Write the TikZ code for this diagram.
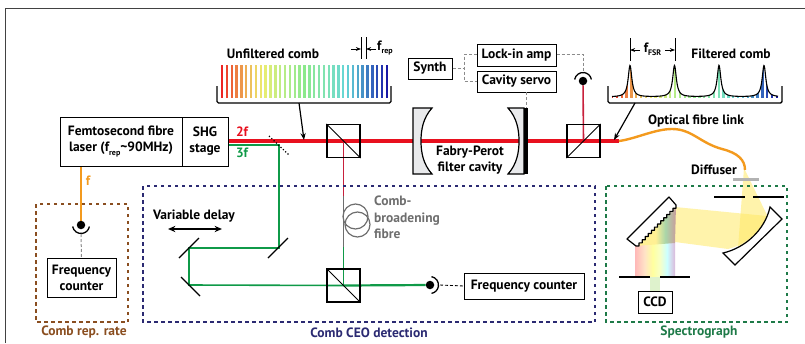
\documentclass[tikz,border=0pt]{standalone}
\usepackage{fontspec}
\setmainfont{PT Sans}
\usepackage{tikz}
\usetikzlibrary{arrows.meta,positioning,calc,backgrounds}
\definecolor{figRed}{HTML}{E8101E}
\definecolor{figCrimson}{HTML}{C8203C}
\definecolor{figGreen}{HTML}{0F9A48}
\definecolor{figOrange}{HTML}{F39A1E}
\definecolor{figBrown}{HTML}{8A4E20}
\definecolor{figNavy}{HTML}{2B2A72}
\definecolor{figForest}{HTML}{1E7A48}
\definecolor{figGrey}{HTML}{6E6E6E}
\definecolor{figMirror}{HTML}{E9EAEC}
\definecolor{figYellow}{HTML}{FFE966}
\pgfdeclarehorizontalshading{specBelow}{100bp}{
  color(0bp)=(red!28!white); color(25bp)=(red!28!white); color(37bp)=(orange!22!white);
  color(47bp)=(yellow!38!white); color(56bp)=(green!14!yellow!22!white); color(65bp)=(cyan!20!white);
  color(75bp)=(violet!28!white); color(100bp)=(violet!28!white)}
\pgfdeclarehorizontalshading{specAbove}{100bp}{
  color(0bp)=(figYellow!70!white); color(50bp)=(figYellow!70!white); color(62bp)=(green!35!gray!50!white);
  color(75bp)=(red!30!gray!60!white); color(100bp)=(red!30!gray!60!white)}
\newcommand{\subtxt}[1]{\raisebox{-0.45ex}{\fontsize{8}{8}\selectfont #1}}
% one comb, starting at x=#1
\newcommand{\drawcomb}[1]{
  \foreach \i in {0,...,34}{
    \pgfmathsetmacro\combhue{240*\i/34}
    \pgfmathsetmacro\combsat{0.85-0.45*sin(180*\i/34)}
    \pgfmathsetmacro\combbri{0.93-0.28*(\i/34)^4}
    \definecolor{combcol}{Hsb}{\combhue,\combsat,\combbri}
    \draw[combcol,line width=2.4pt] ({#1+\i*4.85},65) -- ({#1+\i*4.85},98);
  }
}
\begin{document}
\begin{tikzpicture}[
  x=1pt,y=-1pt,
  font=\fontsize{13.5}{16}\selectfont\bfseries,>={Stealth[length=2.4mm]},
  box/.style={draw=black,line width=1pt,fill=white,align=center,inner sep=0pt},
  cube/.style={draw=black,line width=1.2pt,minimum size=33pt,inner sep=0pt},
  dot/.style={circle,fill=black,minimum size=8.5pt,inner sep=0pt},
  label/.style={align=center,inner sep=0pt},
  flow/.style={->,black,line width=1.2pt},
  thick beam/.style={figRed,line width=3.4pt},
  thin red/.style={figCrimson,line width=1.6pt},
  thin green/.style={figGreen,line width=1.6pt},
  wire/.style={figGrey!80,densely dashed,line width=1pt},
  mirror/.style={black,line width=1.2pt},
  group/.style={dashed,line width=1.2pt,dash pattern=on 3.5pt off 3.5pt}
]
\useasboundingbox (0,0) rectangle (805,343);
\draw[figGrey!60!black,line width=1pt] (5,343) -- (5,8) -- (805,8);
% dashed groups
\draw[group,figBrown] (36,204) rectangle (128,322);
\draw[group,figNavy] (143,186) rectangle (595,322);
\draw[group,figForest] (606,186) rectangle (787,322);
\node[label,text=figBrown] (lblrate) at (84,332) {Comb rep. rate};
\node[label,text=figNavy] (lblceo) at (369,333) {Comb CEO detection};
\node[label,text=figForest] (lblspec) at (699,332) {Spectrograph};
% boxes
\node[box,minimum width=122pt,minimum height=49pt] (laser) at (121,141.5) {Femtosecond fibre\\laser (f\subtxt{rep}\textasciitilde90MHz)};
\node[box,minimum width=46pt,minimum height=49pt] (shg) at (205,141.5) {SHG\\stage};
\node[box,minimum width=69pt,minimum height=39pt] (countA) at (81.5,277.5) {Frequency\\counter};
\node[box,minimum width=120pt,minimum height=26pt] (countB) at (524,286) {Frequency counter};
\node[box,minimum width=44pt,minimum height=21pt] (synth) at (430,68.5) {Synth};
\node[box,minimum width=79pt,minimum height=22pt] (lockin) at (516.5,55) {Lock-in amp};
\node[box,minimum width=79pt,minimum height=21pt] (servo) at (516.5,81.5) {Cavity servo};
\node[box,minimum width=34pt,minimum height=22pt] (ccd) at (655,302) {CCD};
% beam splitters and detectors
\node[cube] (cubeA) at (343.5,141) {};
\node[cube] (cubeB) at (343.5,285.5) {};
\node[cube] (cubeC) at (583.5,141) {};
\draw[line width=1pt] (cubeA.north west) -- (cubeA.south east);
\draw[line width=1pt] (cubeB.north west) -- (cubeB.south east);
\draw[line width=1pt] (cubeC.south west) -- (cubeC.north east);
\node[dot] (detA) at (81,225) {};
\node[dot] (detB) at (430,285) {};
\node[dot] (detC) at (583,81) {};
\draw[line width=1.3pt] (detA) ++(170:8.5) arc[start angle=170,end angle=10,radius=8.5];
\draw[line width=1.3pt] (detB) ++(-80:8.5) arc[start angle=-80,end angle=80,radius=8.5];
\draw[line width=1.3pt] (detC) ++(190:8.5) arc[start angle=190,end angle=350,radius=8.5];
% named points of the beams
\coordinate (shgRed) at (228,141);
\coordinate (shgGreen) at (228,145);
\coordinate (split) at (279,145);
\coordinate (delayA) at (279,248);
\coordinate (delayB) at (189,248);
\coordinate (delayC) at (189,285);
\coordinate (fibreIn) at (343.5,196);
\coordinate (fibreOut) at (343.5,247);
\coordinate (linkIn) at (619,141);
\coordinate (linkOut) at (745,170);
\begin{scope}[on background layer]
  % spectrograph light
  \fill[figYellow,opacity=0.55] (744,168) -- (738,248) .. controls (750,243) and (762,230) .. (767,215) -- cycle;
  \fill[figYellow,opacity=0.55] (675,207) -- (767,216) .. controls (762,230) and (745,245) .. (728,249) -- (675,242) -- cycle;
  \shade[shading=specBelow] (635,243) rectangle (675,277);
  \shade[shading=specAbove] (635,246) -- (676,205) -- (675,243) -- cycle;
  \fill[yellow!35!green!20!white] (650,277) rectangle (660,291);
  % beams
  \draw[thick beam] (shgRed) -- (cubeC.center) -- (linkIn);
  \draw[thin green] (shgGreen) -- (split) -- (delayA) -- (delayB) -- (delayC) -- (cubeB.center);
  \draw[figGreen,line width=2.2pt] (cubeB.center) -- (detB);
  \draw[thin red] (cubeA.center) -- (fibreIn);
  \draw[figGrey,line width=1.6pt] (fibreIn) -- (fibreOut);
  \draw[thin green] (fibreOut) -- (cubeB.center);
  \draw[thin red] (cubeC.center) -- (detC);
  \draw[figOrange,line width=1.9pt] (laser.south -| detA) -- (detA);
  \draw[figOrange,line width=2.4pt] (linkIn) .. controls (635,139) and (655,129) .. (672,129)
    .. controls (692,129) and (700,143) .. (722,149) .. controls (738,153) and (745,160) .. (linkOut);
\end{scope}
% fibre coil
\draw[figGrey,line width=1.2pt] (355.5,216.5) circle[radius=12.5];
\draw[figGrey,line width=1.2pt] (357.5,224.5) circle[radius=12.5];
% electronics
\draw[wire] (synth) -- (464,68.5);
\draw[wire] (lockin.west |- 0,54) -| (464,81) -- (servo.west |- 0,81);
\draw[wire] (526,92) -- (526,108);
\draw[wire] (lockin.east |- 0,54) -| ($(detC)+(0,-8.5)$);
\draw[wire] ($(detA)+(0,9)$) -- (countA.north);
\draw[densely dashed,line width=0.9pt] (440,285) -- (countB.west);
% cavity mirrors
\draw[fill=figMirror,line width=1.2pt] (432,108) -- (413,108) -- (413,174) -- (432,174) .. controls (423,164) and (421,152) .. (421,141) .. controls (421,130) and (423,118) .. (432,108) -- cycle;
\draw[fill=figMirror,line width=1.2pt] (508,108) -- (524,108) -- (524,174) -- (508,174) .. controls (517,164) and (519,152) .. (519,141) .. controls (519,130) and (517,118) .. (508,108) -- cycle;
\fill[black] (524,108) rectangle (528,174);
% delay line
\draw[mirror] (268,258) -- (288,238);
\draw[mirror] (179,258) -- (199,238);
\draw[mirror] (181,277) -- (200,296);
\draw[black,line width=1.2pt,dotted] (269,136) -- (289,155);
\draw[<->,line width=1.3pt,>={Stealth[length=2.6mm,width=2.2mm]}] (168,229) -- (222,229);
\node[label] (lbldelay) at (194,216) {Variable delay};
\node[label,text=figGrey,align=left,anchor=north west,font=\fontsize{13.5}{16.3}\selectfont\bfseries] (lblfibre) at (374,196) {Comb-\\broadening\\fibre};
\node[label] (lblcavity) at (470,160.5) {Fabry-Perot\\filter cavity};
\node[label,text=figRed] (lbltwof) at (242,132) {2f};
\node[label,text=figGreen] (lblthreef) at (242,153) {3f};
\node[label,text=figOrange] (lblf) at (88,181) {f};
% unfiltered comb
\drawcomb{222}
\node[label] (lblunf) at (273,54) {Unfiltered comb};
\draw[line width=1.4pt,rounded corners=1.5pt] (217,86) -- (217,103) -- (391,103) -- (391,86);
\coordinate (unfTail) at (299,103);
\coordinate (unfHead) at (304,140);
\draw[flow] (unfTail) -- (unfHead);
\draw[line width=0.9pt] (361,37) -- (361,59);
\draw[line width=0.9pt] (366,37) -- (366,59);
\draw[->,line width=0.9pt,>={Stealth[length=1.8mm]}] (351,49) -- (361,49);
\draw[->,line width=0.9pt,>={Stealth[length=1.8mm]}] (376,49) -- (366,49);
\node[label,anchor=west] (lblfrep) at (377,48) {f\subtxt{rep}};
% filtered comb
\begin{scope}
  \clip plot[domain=612:778,samples=400,smooth] (\x,{97-31.5*(1/(1+((\x-630)/2.2)^2)+1/(1+((\x-674.5)/2.2)^2)+1/(1+((\x-719)/2.2)^2)+1/(1+((\x-764)/2.2)^2))}) -- (778,98) -- (612,98) -- cycle;
  \drawcomb{612}
\end{scope}
\draw[line width=1.1pt] plot[domain=612:778,samples=400,smooth] (\x,{97-31.5*(1/(1+((\x-630)/2.2)^2)+1/(1+((\x-674.5)/2.2)^2)+1/(1+((\x-719)/2.2)^2)+1/(1+((\x-764)/2.2)^2))});
\node[label] (lblfil) at (731,54) {Filtered comb};
\draw[line width=1.4pt,rounded corners=1.5pt] (608,86) -- (608,103) -- (782,103) -- (782,86);
\coordinate (filTail) at (635,103);
\coordinate (filHead) at (614,140);
\draw[flow] (filTail) -- (filHead);
\draw[line width=0.9pt] (630,38) -- (630,61);
\draw[line width=0.9pt] (675,38) -- (675,61);
\draw[->,line width=0.9pt,>={Stealth[length=1.8mm]}] (640,50) -- (630,50);
\draw[->,line width=0.9pt,>={Stealth[length=1.8mm]}] (665,50) -- (675,50);
\node[label] (lblfsr) at (652.5,49) {f\subtxt{FSR}};
\node[label] (lbllink) at (696,121) {Optical fibre link};
% spectrograph
\node[label] (lbldiff) at (714,170) {Diffuser};
\draw[gray!60,line width=3pt] (733,179) -- (759,179);
\draw[line width=1.5pt] (714,197) -- (745,197) (753,197) -- (784,197);
\draw[line width=1.5pt] (619,277) -- (650,277) (660,277) -- (690,277);
\draw[fill=white,line width=1.2pt] (770,207) -- (782,219) -- (735,265) -- (723,253) .. controls (745,248) and (765,230) .. (770,207) -- cycle;
\draw[fill=white,line width=1.2pt,line join=round] (636,246) \foreach \i in {1,...,13}{ -- ++(3.08,0) -- ++(0,-3.15) } -- (669,197) -- (627,239) -- cycle;
\end{tikzpicture}
\end{document}
